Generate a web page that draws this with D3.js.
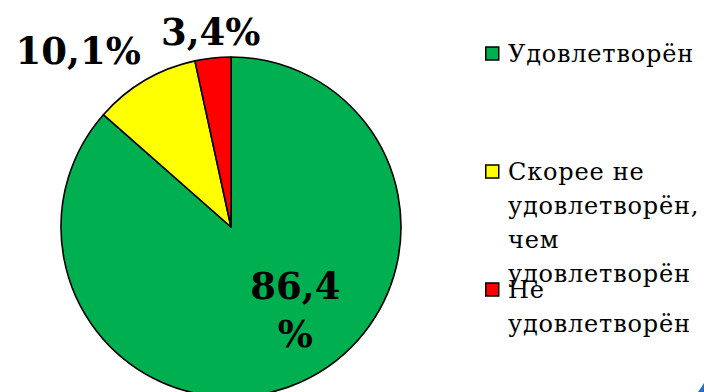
<!DOCTYPE html>
<html>
<head>
<meta charset="utf-8">
<script src="https://cdn.jsdelivr.net/npm/d3@7"></script>
<style>
  html, body { margin: 0; padding: 0; background: #fff; overflow: hidden; }
  svg { display: block; }
</style>
</head>
<body>
<svg id="chart" width="704" height="392"></svg>
<script>
// Satisfaction survey shares
const categories = ["Удовлетворён", "Скорее не удовлетворён, чем удовлетворён", "Не удовлетворён"];
const values = [86.4, 10.1, 3.4];
const colors = ["#00b050", "#ffff00", "#ff0000"];
// Legend text broken into display lines
const legendLines = [
  ["Удовлетворён"],
  ["Скорее не", "удовлетворён,", "чем", "удовлетворён"],
  ["Не", "удовлетворён"]
];

const W = 704, H = 392;
const cx = 231, cy = 227, radius = 170;

const svg = d3.select("#chart");

const pie = d3.pie().sort(null).value(d => d.value).startAngle(0).endAngle(2 * Math.PI);
const data = categories.map((c, i) => ({ name: c, value: values[i], color: colors[i] }));
const arcs = pie(data);

const arc = d3.arc().innerRadius(0).outerRadius(radius);

const g = svg.append("g").attr("transform", `translate(${cx},${cy})`);

g.selectAll("path.slice")
  .data(arcs)
  .join("path")
  .attr("class", "slice")
  .attr("d", arc)
  .attr("fill", d => d.data.color)
  .attr("stroke", "#000")
  .attr("stroke-width", 1.6)
  .attr("stroke-linejoin", "round");

// Data labels: percentage with a decimal comma
const fmt = v => v.toFixed(1).replace(".", ",") + "%";
// label anchor: radius fraction and a nudge from the arc centroid
const labelPlacement = [
  { r: 0.62, dx: 21, dy: -24, lines: v => [fmt(v).replace("%", ""), "%"] },
  { r: 1.17, dx: -52, dy: 8, lines: v => [fmt(v)] },
  { r: 1.12, dx: 0, dy: 7, lines: v => [fmt(v)] }
];
const labelArc = i => d3.arc().innerRadius(radius * labelPlacement[i].r).outerRadius(radius * labelPlacement[i].r);

g.selectAll("text.dl")
  .data(arcs)
  .join("text")
  .attr("class", "dl")
  .attr("font-family", "'DejaVu Serif', serif")
  .attr("font-weight", "bold")
  .attr("font-size", 37)
  .attr("fill", "#000")
  .attr("text-anchor", "middle")
  .each(function (d, i) {
    const p = labelArc(i).centroid(d);
    const x = p[0] + labelPlacement[i].dx;
    const y = p[1] + labelPlacement[i].dy;
    const lines = labelPlacement[i].lines(d.data.value);
    const t = d3.select(this);
    lines.forEach((ln, k) => {
      t.append("tspan").attr("x", x).attr("y", y + k * 48).text(ln);
    });
  });

// Legend
const legend = svg.append("g").attr("transform", "translate(485,0)");
const legendBaseline = 62, legendStep = 118, lineH = 34;

const items = legend.selectAll("g.item")
  .data(data)
  .join("g")
  .attr("class", "item")
  .attr("transform", (d, i) => `translate(0,${legendBaseline + i * legendStep})`);

items.append("rect")
  .attr("x", 0.75)
  .attr("y", -15)
  .attr("width", 13)
  .attr("height", 13)
  .attr("fill", d => d.color)
  .attr("stroke", "#000")
  .attr("stroke-width", 1.5);

items.append("text")
  .attr("font-family", "'DejaVu Serif', serif")
  .attr("font-size", 24)
  .attr("letter-spacing", 0.8)
  .attr("fill", "#000")
  .each(function (d, i) {
    const t = d3.select(this);
    legendLines[i].forEach((ln, k) => {
      t.append("tspan").attr("x", 23).attr("y", k * lineH).text(ln);
    });
  });

// Corner ornament of the slide
svg.append("path")
  .attr("d", `M${W},${H - 9} L${W},${H} L${W - 6},${H} Q${W - 3},${H - 4} ${W},${H - 9} Z`)
  .attr("fill", "#1f6fc5");
</script>
</body>
</html>
